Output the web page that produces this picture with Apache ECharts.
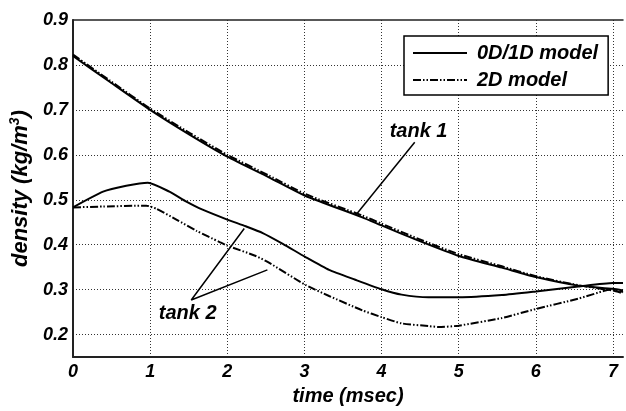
<!DOCTYPE html>
<html>
<head>
<meta charset="utf-8">
<title>density vs time</title>
<script src="https://cdn.jsdelivr.net/npm/echarts@6/dist/echarts.min.js"></script>
<style>
  html, body { margin: 0; padding: 0; background: #fff; }
  #main { width: 626px; height: 411px; }
</style>
</head>
<body>
<div id="main"></div>
<script>
// 数据 (time msec, density kg/m3)
var tank1Model = [[0, 0.82], [0.48, 0.762], [1.0, 0.70], [1.51, 0.645], [2.0, 0.596], [2.54, 0.55],
  [3.01, 0.509], [3.75, 0.461], [4.0, 0.443], [4.48, 0.409], [5.0, 0.375], [5.56, 0.349],
  [6.0, 0.328], [6.55, 0.309], [7.0, 0.302], [7.13, 0.298]];
var tank1Model2D = [[0, 0.823], [0.48, 0.765], [1.0, 0.703], [1.51, 0.649], [2.0, 0.600], [2.54, 0.554],
  [3.01, 0.513], [3.75, 0.465], [4.0, 0.447], [4.48, 0.413], [5.0, 0.379], [5.56, 0.352],
  [6.0, 0.330], [6.55, 0.310], [7.0, 0.298], [7.13, 0.292]];
var tank2Model = [[0, 0.483], [0.39, 0.518], [0.69, 0.531], [0.97, 0.538], [1.25, 0.518], [1.47, 0.496],
  [1.68, 0.478], [2.0, 0.456], [2.24, 0.441], [2.46, 0.426], [2.72, 0.402], [3.01, 0.373],
  [3.32, 0.344], [3.66, 0.322], [4.0, 0.301], [4.26, 0.289], [4.61, 0.283], [5.0, 0.283],
  [5.56, 0.288], [6.0, 0.296], [6.55, 0.307], [7.0, 0.315], [7.13, 0.315]];
var tank2Model2D = [[0, 0.483], [0.39, 0.485], [0.95, 0.487], [1.08, 0.48], [1.34, 0.456], [1.60, 0.431],
  [1.90, 0.406], [2.0, 0.398], [2.37, 0.375], [2.54, 0.36], [3.01, 0.311], [3.32, 0.286],
  [3.75, 0.254], [4.0, 0.239], [4.26, 0.225], [4.61, 0.219], [4.74, 0.217], [5.0, 0.22],
  [5.56, 0.237], [6.0, 0.257], [6.55, 0.28], [6.9, 0.298], [7.0, 0.30], [7.13, 0.295]];

// 注释线和文字
var tank1Leader = [[4.43, 0.628], [3.68, 0.469]];
var tank2Leader = [[2.22, 0.436], [1.533, 0.277], [2.52, 0.344]];
var noteLabels = [[4.48, 0.652, 'tank 1'], [1.486, 0.248, 'tank 2']];

var legendNames = ['0D/1D model', '2D model'];
var xMin = 0, xMax = 7.13, xStep = 1;
var yMin = 0.15, yMax = 0.9, yStep = 0.05;

var font = "'Liberation Sans', Arial, sans-serif";
var dash2D = [8, 2, 1.5, 2, 1.5, 2];

var chart = echarts.init(document.getElementById('main'), null, { renderer: 'canvas' });

var option = {
  backgroundColor: '#ffffff',
  animation: false,
  textStyle: { fontFamily: font, fontWeight: 'bold', fontStyle: 'italic', color: '#000' },
  grid: { left: 73, right: 0, top: 20, bottom: 47, containLabel: false },
  legend: {
    data: legendNames,
    orient: 'vertical',
    left: 404,
    top: 36,
    padding: [7, 10, 5, 8],
    itemGap: 7,
    itemWidth: 54,
    itemHeight: 14,
    backgroundColor: '#fff',
    borderColor: '#000',
    borderWidth: 1.5,
    borderRadius: 0,
    itemStyle: { opacity: 0 },   // 只画线，不画圆点
    lineStyle: { opacity: 1, width: 2 },
    textStyle: {
      fontFamily: font, fontWeight: 'bold', fontStyle: 'italic', fontSize: 20,
      color: '#000', padding: [0, 0, 0, 5]
    }
  },
  xAxis: [{
    type: 'value',
    min: xMin,
    max: xMax,
    interval: xStep,
    name: 'time (msec)',
    nameLocation: 'middle',
    nameGap: 27,
    nameTextStyle: { fontFamily: font, fontWeight: 'bold', fontStyle: 'italic', fontSize: 20, color: '#000' },
    axisLine: { lineStyle: { color: '#222', width: 2 } },
    axisTick: { show: false },
    axisLabel: {
      margin: 6,
      fontFamily: font, fontWeight: 'bold', fontStyle: 'italic', fontSize: 18, color: '#000',
      formatter: function (v) {
        return Math.abs(v - Math.round(v)) < 1e-6 ? String(Math.round(v)) : '';
      }
    },
    splitLine: {
      show: true,
      showMinLine: false,
      showMaxLine: false,
      lineStyle: { color: '#333', width: 1, type: [1, 2] }
    }
  }, {
    // 上边框
    type: 'value',
    position: 'top',
    min: xMin,
    max: xMax,
    axisLine: { show: true, lineStyle: { color: '#222', width: 1.5 } },
    axisTick: { show: false },
    axisLabel: { show: false },
    splitLine: { show: false }
  }],
  yAxis: {
    type: 'value',
    min: yMin,
    max: yMax,
    interval: yStep,
    name: '{a|density (kg/m}{b|3}{a|)}',
    nameLocation: 'middle',
    nameGap: 40,
    nameTextStyle: {
      rich: {
        a: { fontFamily: font, fontWeight: 'bold', fontStyle: 'italic', fontSize: 22, color: '#000', lineHeight: 25 },
        b: { fontFamily: font, fontWeight: 'bold', fontStyle: 'italic', fontSize: 14, color: '#000', verticalAlign: 'top', lineHeight: 25 }
      }
    },
    axisLine: { show: true, lineStyle: { color: '#222', width: 2 } },
    axisTick: { show: false },
    axisLabel: {
      margin: 5,
      padding: [0, 0, 6, 0],
      fontFamily: font, fontWeight: 'bold', fontStyle: 'italic', fontSize: 18, color: '#000',
      formatter: function (v) {
        return Math.round(v * 100) % 10 === 0 ? v.toFixed(1) : '';
      }
    },
    splitLine: {
      show: true,
      showMaxLine: false,
      // 0.05 步长，只显示 0.1 的格线
      lineStyle: { color: ['rgba(0,0,0,0)', '#333'], width: 1, type: [1, 2] }
    }
  },
  series: [{
    name: '0D/1D model',
    type: 'line',
    data: tank1Model,
    symbol: 'none',
    smooth: 0.2,
    lineStyle: { color: '#000', width: 2, type: 'solid' },
    itemStyle: { color: '#000' },
    z: 3
  }, {
    name: '2D model',
    type: 'line',
    data: tank1Model2D,
    symbol: 'none',
    smooth: 0.2,
    lineStyle: { color: '#000', width: 2, type: dash2D },
    itemStyle: { color: '#000' },
    z: 3
  }, {
    name: '0D/1D model',
    type: 'line',
    data: tank2Model,
    symbol: 'none',
    smooth: 0.2,
    lineStyle: { color: '#000', width: 2, type: 'solid' },
    itemStyle: { color: '#000' },
    z: 3
  }, {
    name: '2D model',
    type: 'line',
    data: tank2Model2D,
    symbol: 'none',
    smooth: 0.2,
    lineStyle: { color: '#000', width: 2, type: dash2D },
    itemStyle: { color: '#000' },
    z: 3
  }, {
    name: 'leader1',
    type: 'line',
    data: tank1Leader,
    symbol: 'none',
    silent: true,
    lineStyle: { color: '#000', width: 1.5 },
    z: 4
  }, {
    name: 'leader2',
    type: 'line',
    data: tank2Leader,
    symbol: 'none',
    silent: true,
    lineStyle: { color: '#000', width: 1.5 },
    z: 4
  }, {
    name: 'notes',
    type: 'scatter',
    data: noteLabels,
    symbolSize: 0,
    silent: true,
    itemStyle: { opacity: 1, color: '#000' },
    label: {
      show: true,
      position: 'inside',
      formatter: function (p) { return p.value[2]; },
      fontFamily: font, fontWeight: 'bold', fontStyle: 'italic', fontSize: 20,
      color: '#000', opacity: 1, textBorderWidth: 0
    },
    z: 5
  }]
};

chart.setOption(option);
</script>
</body>
</html>
